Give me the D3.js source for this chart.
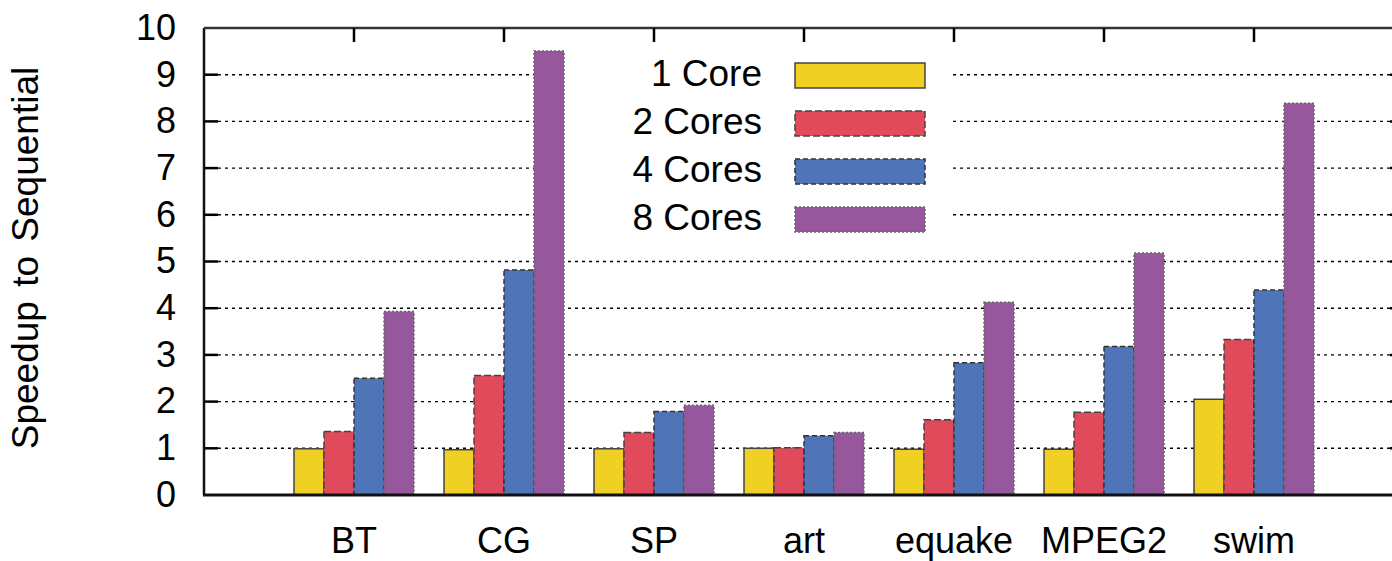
<!DOCTYPE html>
<html>
<head>
<meta charset="utf-8">
<script src="https://cdn.jsdelivr.net/npm/d3@7"></script>
<style>
  body { margin: 0; background: #fff; }
  text { font-family: "Liberation Sans", Arial, sans-serif; fill: #000; }
</style>
</head>
<body>
<svg id="chart" width="1392" height="561"></svg>
<script>
const benchmarks = ["BT", "CG", "SP", "art", "equake", "MPEG2", "swim"];
const seriesNames = ["1 Core", "2 Cores", "4 Cores", "8 Cores"];
const oneCore   = [0.99, 0.97, 0.99, 1.00, 0.98, 0.98, 2.05];
const twoCores  = [1.36, 2.56, 1.34, 1.01, 1.61, 1.77, 3.33];
const fourCores = [2.50, 4.82, 1.79, 1.27, 2.83, 3.18, 4.39];
const eightCores = [3.93, 9.51, 1.92, 1.34, 4.13, 5.18, 8.39];
const yTicks = [0, 1, 2, 3, 4, 5, 6, 7, 8, 9, 10];

const colors = ["#f0d123", "#e04a5a", "#4f74b8", "#96579c"];
const dashes = [null, "7,3", "5,3", "2,2"];
const strokes = ["#444", "#444", "#333", "#666"];

const svg = d3.select("#chart");
const plotLeft = 204, plotRight = 1404, plotTop = 28, plotBottom = 495;

const seriesValues = [oneCore, twoCores, fourCores, eightCores];

const x = d3.scaleLinear().domain([0, benchmarks.length + 1]).range([plotLeft, plotRight]);
const y = d3.scaleLinear().domain([0, 10]).range([plotBottom, plotTop]);
const inner = d3.scaleBand().domain(seriesNames).range([-60, 60]);

// grid lines
svg.append("g")
  .selectAll("line")
  .data(yTicks.filter(t => t > 0 && t < 10))
  .enter()
  .append("line")
  .attr("x1", plotLeft + 14)
  .attr("x2", plotRight - 14)
  .attr("y1", d => y(d))
  .attr("y2", d => y(d))
  .attr("stroke", "#000")
  .attr("stroke-width", 1.4)
  .attr("stroke-dasharray", "3,4");

// opaque legend background
svg.append("rect")
  .attr("x", 566).attr("y", 46)
  .attr("width", 387).attr("height", 200)
  .attr("fill", "#fff");

// bars
const groups = svg.append("g")
  .selectAll("g")
  .data(benchmarks)
  .enter()
  .append("g")
  .attr("transform", (d, i) => `translate(${x(i + 1)},0)`);

groups.selectAll("rect")
  .data((d, i) => seriesNames.map((s, k) => ({ s, k, v: seriesValues[k][i] })))
  .enter()
  .append("rect")
  .attr("x", d => inner(d.s))
  .attr("y", d => y(d.v))
  .attr("width", inner.bandwidth())
  .attr("height", d => y(0) - y(d.v))
  .attr("fill", d => colors[d.k])
  .attr("stroke", d => strokes[d.k])
  .attr("stroke-width", 1.5)
  .attr("stroke-dasharray", d => dashes[d.k]);

// frame
const frame = svg.append("g").attr("stroke", "#111");
frame.append("line").attr("x1", plotLeft).attr("x2", plotLeft).attr("y1", plotTop).attr("y2", plotBottom).attr("stroke-width", 2.5);
frame.append("line").attr("x1", plotLeft).attr("x2", plotRight).attr("y1", plotTop).attr("y2", plotTop).attr("stroke-width", 2.5).attr("stroke", "#333");
frame.append("line").attr("x1", plotLeft - 1).attr("x2", plotRight).attr("y1", plotBottom).attr("y2", plotBottom).attr("stroke-width", 3);

// y ticks (left and mirrored right)
const yAxis = svg.append("g");
yTicks.forEach(t => {
  if (t > 0 && t < 10) {
    yAxis.append("line").attr("x1", plotLeft).attr("x2", plotLeft + 14)
      .attr("y1", y(t)).attr("y2", y(t)).attr("stroke", "#000").attr("stroke-width", 2.5);
    yAxis.append("line").attr("x1", plotRight - 14).attr("x2", plotRight)
      .attr("y1", y(t)).attr("y2", y(t)).attr("stroke", "#000").attr("stroke-width", 2.5);
  }
  yAxis.append("text")
    .attr("x", 176)
    .attr("y", y(t))
    .attr("dy", "0.33em")
    .attr("text-anchor", "end")
    .style("font-size", "36px")
    .text(t);
});

// x ticks on top and labels
benchmarks.forEach((b, i) => {
  svg.append("line")
    .attr("x1", x(i + 1)).attr("x2", x(i + 1))
    .attr("y1", plotTop).attr("y2", plotTop + 14)
    .attr("stroke", "#000").attr("stroke-width", 2.5);
  svg.append("text")
    .attr("x", x(i + 1))
    .attr("y", 553)
    .attr("text-anchor", "middle")
    .style("font-size", "36px")
    .text(b);
});

// y title
svg.append("text")
  .attr("transform", "translate(38,258) rotate(-90)")
  .attr("text-anchor", "middle")
  .style("font-size", "37px")
  .style("word-spacing", "4px")
  .text("Speedup to Sequential");

// legend
const legend = svg.append("g");
seriesNames.forEach((s, k) => {
  const cy = 75.5 + k * 48;
  legend.append("text")
    .attr("x", 762)
    .attr("y", cy + 10)
    .attr("text-anchor", "end")
    .style("font-size", "37px")
    .text(s);
  legend.append("rect")
    .attr("x", 795).attr("y", cy - 12.5)
    .attr("width", 130).attr("height", 25)
    .attr("fill", colors[k])
    .attr("stroke", strokes[k])
    .attr("stroke-width", 1.5)
    .attr("stroke-dasharray", dashes[k]);
});
</script>
</body>
</html>
